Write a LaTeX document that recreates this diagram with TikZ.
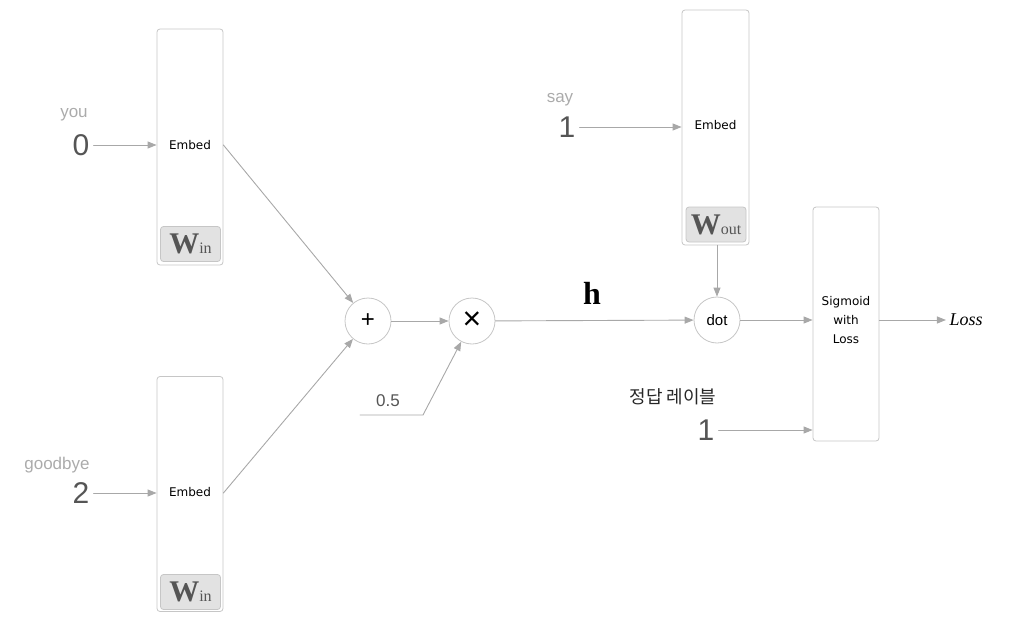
\documentclass[tikz,border=0pt]{standalone}
\usepackage{fontspec}
\setmainfont{Liberation Sans}
\newfontfamily\boxfont{DejaVu Sans}
\newfontfamily\wfont{Liberation Serif}
\newfontfamily\korfont{Noto Sans CJK KR}
\usetikzlibrary{arrows.meta}

\definecolor{linegray}{HTML}{A8A8A8}
\definecolor{boxgray}{HTML}{C6C6C6}
\definecolor{numgray}{HTML}{555555}
\definecolor{wordgray}{HTML}{ABABAB}
\definecolor{wfill}{HTML}{E2E2E2}

\newcommand{\wmat}[1]{{\wfont\fontsize{30}{30}\selectfont\bfseries W}{\wfont\fontsize{16}{16}\selectfont #1}}

\begin{document}
\begin{tikzpicture}[
	x=1pt, y=-1pt,
	line cap=round,
	line join=round,
	conn/.style={draw=linegray, line width=0.9pt, -{Triangle[length=9pt,width=7pt]}},
	layerbox/.style={draw=boxgray, line width=0.8pt, rounded corners=3pt, minimum width=66pt, inner sep=0pt, align=center, text=black, font=\boxfont\fontsize{12}{19}\selectfont},
	wbox/.style={draw=boxgray, fill=wfill, line width=0.8pt, rounded corners=3pt, minimum width=60pt, minimum height=35pt, inner sep=0pt, text=numgray},
	opnode/.style={circle, draw=boxgray, line width=0.8pt, minimum size=46pt, inner sep=0pt, text=black},
	num/.style={text=numgray, inner sep=4pt, font=\fontsize{30}{30}\selectfont},
	word/.style={text=wordgray, font=\fontsize{17}{17}\selectfont}
	]
	
	\useasboundingbox (0,0) rectangle (1019,623);
	
	% input words
	\node[word] (you) at (74,115) {you};
	\node[num] (n0) at (81,145) {0};
	\node[word] (goodbye) at (57,465) {goodbye};
	\node[num] (n2) at (81,493) {2};
	
	% embed layers for the context
	\node[layerbox, minimum height=236pt] (emb1) at (190,147) {};
	\node[layerbox, draw=none] (emb1txt) at (190,145) {Embed};
	\node[wbox] (win1) at (190.5,244) {\wmat{in}};
	\node[layerbox, minimum height=235pt] (emb2) at (190,494) {};
	\node[layerbox, draw=none] (emb2txt) at (190,492) {Embed};
	\node[wbox] (win2) at (190.5,592) {\wmat{in}};
	
	\draw[conn] (n0.east) -- (n0.east -| emb1.west);
	\draw[conn] (n2.east) -- (n2.east -| emb2.west);
	
	% sum and average
	\node[opnode, font=\fontsize{24}{24}\selectfont] (plus) at (368,321) {+};
	\node[opnode, font=\fontsize{32}{32}\selectfont] (times) at (472,321) {×};
	\draw[conn] (emb1.east |- n0) -- (plus);
	\draw[conn] (emb2.east |- n2) -- (plus);
	\draw[conn] (plus) -- (times);
	
	\coordinate (halfstart) at (360,415);
	\coordinate (halfbend) at (423,415);
	\node[text=numgray, font=\fontsize{17}{17}\selectfont] (half) at (388,401) {0.5};
	\draw[conn] (halfstart) -- (halfbend) -- (times);
	
	% hidden layer
	\node[font=\wfont\fontsize{32}{32}\selectfont\bfseries] (h) at (592,293) {h};
	\node[opnode, font=\fontsize{15}{15}\selectfont] (dot) at (717,320) {dot};
	\draw[conn] (times) -- (dot);
	
	% target word
	\node[word] (say) at (560,100) {say};
	\node[num] (n1) at (567,127) {1};
	\node[layerbox, minimum width=67pt, minimum height=235pt] (emb3) at (715.5,127.5) {};
	\node[layerbox, draw=none] (emb3txt) at (715.5,125) {Embed};
	\node[wbox] (wout) at (716,224.5) {\wmat{out}};
	\draw[conn] (n1.east) -- (n1.east -| emb3.west);
	\draw[conn] (emb3.south -| dot) -- (dot);
	
	% loss
	\node[layerbox, minimum height=234pt] (sig) at (846,324) {};
	\node[layerbox, draw=none] (sigtxt) at (846,320) {Sigmoid\\with\\Loss};
	\node[font=\wfont\fontsize{18}{18}\selectfont\itshape] (loss) at (966,320) {Loss};
	\draw[conn] (dot) -- (dot -| sig.west);
	\draw[conn] (sig.east |- dot) -- (loss);
	
	\node[font=\korfont\fontsize{18}{18}\selectfont, text=black!85] (label) at (673,397) {정답 레이블};
	\node[num] (n1b) at (706,430) {1};
	\draw[conn] (n1b.east) -- (n1b.east -| sig.west);
	
\end{tikzpicture}
\end{document}
